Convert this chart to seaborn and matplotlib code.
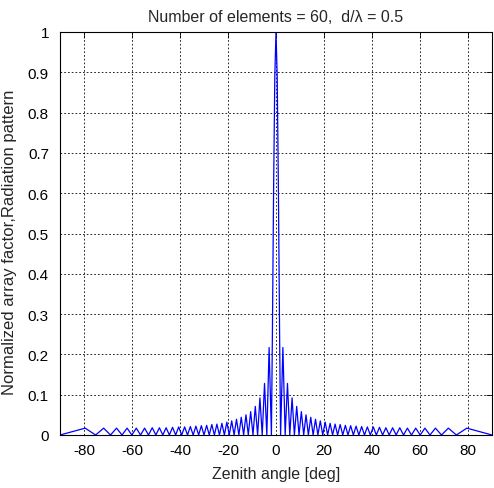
import numpy as np
import pandas as pd
import matplotlib
matplotlib.use("Agg")
import matplotlib.pyplot as plt
import seaborn as sns

# Values (positive-angle half; pattern is symmetric)
main_lobe_angles = [0.0, 0.5, 1.0, 1.5]
main_lobe_values = [1.0, 0.89, 0.61, 0.25]
null_angles = [1.91, 3.82, 5.74, 7.66, 9.59, 11.54, 13.49, 15.47, 17.46, 19.47,
               21.51, 23.58, 25.68, 27.82, 30.0, 32.23, 34.52, 36.87, 39.30, 41.81,
               44.43, 47.17, 50.06, 53.13, 56.44, 60.07, 64.16, 68.96, 75.16]
peak_angles = [2.87, 4.78, 6.70, 8.63, 10.56, 12.51, 14.48, 16.46, 18.46, 20.49,
               22.54, 24.62, 26.74, 28.90, 31.11, 33.37, 35.69, 38.07, 40.54, 43.11,
               45.78, 48.59, 51.56, 54.75, 58.21, 62.05, 66.44, 71.81, 79.52]
peak_values = [0.217, 0.128, 0.092, 0.071, 0.058, 0.050, 0.044, 0.039, 0.035, 0.032,
               0.029, 0.027, 0.026, 0.024, 0.023, 0.022, 0.021, 0.020, 0.020, 0.019,
               0.018, 0.018, 0.018, 0.017, 0.017, 0.017, 0.017, 0.017, 0.017]
end_angle = 90.0
end_value = 0.0

x_ticks = [-80, -60, -40, -20, 0, 20, 40, 60, 80]
y_ticks = [0, 0.1, 0.2, 0.3, 0.4, 0.5, 0.6, 0.7, 0.8, 0.9, 1]
y_tick_labels = ["0", "0.1", "0.2", "0.3", "0.4", "0.5", "0.6", "0.7", "0.8", "0.9", "1"]

# Build the half curve from the read vertices, then mirror it
half_x = list(main_lobe_angles)
half_y = list(main_lobe_values)
for n, p, v in zip(null_angles, peak_angles, peak_values):
    half_x += [n, p]
    half_y += [0.0, v]
half_x.append(end_angle)
half_y.append(end_value)

xs = [-a for a in half_x[:0:-1]] + half_x
ys = half_y[:0:-1] + half_y
df = pd.DataFrame({"angle": xs, "af": ys})

sns.set_style("white")
plt.rcParams["font.family"] = ["Liberation Sans", "DejaVu Sans"]
plt.rcParams["font.size"] = 11

W, H = 494, 489
fig = plt.figure(figsize=(W / 100, H / 100), dpi=100)
ax = fig.add_axes([60 / W, 1 - 436 / H, 432 / W, 403 / H])

sns.lineplot(data=df, x="angle", y="af", sort=False, color=(0, 0, 1),
             linewidth=0.9, ax=ax, estimator=None)

ax.set_xlim(-90, 90)
ax.set_ylim(0, 1)
ax.set_xticks(x_ticks)
ax.set_xticklabels([str(t) for t in x_ticks])
ax.set_yticks(y_ticks)
ax.set_yticklabels(y_tick_labels)
ax.grid(True, linestyle=(0, (2, 2.5)), color="black", linewidth=0.6)
ax.tick_params(direction="in", length=4, width=0.6, top=True, right=True,
               labelsize=11, colors="black")
ax.tick_params(axis="y", pad=8)
ax.tick_params(axis="x", pad=6)
for s in ax.spines.values():
    s.set_visible(True)
    s.set_color("black")
    s.set_linewidth(0.8)

ax.set_xlabel("Zenith angle [deg]", fontsize=11.5, labelpad=6)
ax.set_ylabel("Normalized array factor,Radiation pattern", fontsize=12)
ax.yaxis.set_label_coords(-(60 - 17) / 432, 0.48)
ax.set_title("Number of elements = 60,  d/\u03bb = 0.5", fontsize=11.5, pad=8)

fig.savefig("out.png", dpi=100)
